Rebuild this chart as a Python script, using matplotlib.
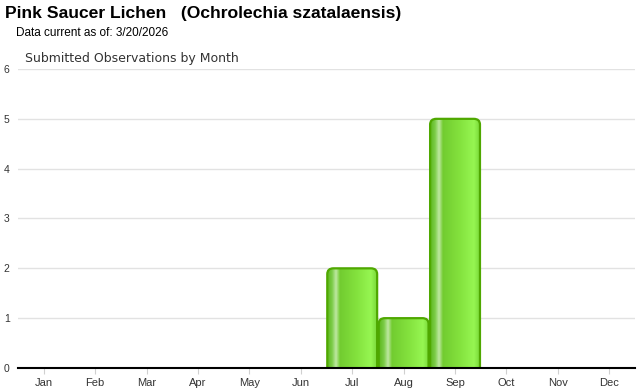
import numpy as np
import matplotlib.pyplot as plt
from matplotlib.patches import FancyBboxPatch
from matplotlib.colors import LinearSegmentedColormap

# ---------------------------------------------------------
# Submitted observations by month
# ---------------------------------------------------------
months = ["Jan", "Feb", "Mar", "Apr", "May", "Jun",
          "Jul", "Aug", "Sep", "Oct", "Nov", "Dec"]
observations = [0, 0, 0, 0, 0, 0, 2, 1, 5, 0, 0, 0]
y_ticks = [0, 1, 2, 3, 4, 5, 6]

title = "Pink Saucer Lichen   (Ochrolechia szatalaensis)"
subtitle = "Data current as of: 3/20/2026"
chart_title = "Submitted Observations by Month"

# horizontal gradient used to fill each bar
bar_cmap = LinearSegmentedColormap.from_list("bar", [
    (0.00, "#5cb81c"),
    (0.10, "#7ccc48"),
    (0.18, "#bfe8a2"),
    (0.26, "#72cc30"),
    (0.60, "#84e23e"),
    (0.88, "#96f652"),
    (1.00, "#7ad83a"),
])
border_color = "#4fa800"

fig = plt.figure(figsize=(6.4, 3.9), dpi=100)
ax = fig.add_axes([18 / 640, 1 - 368 / 390, 617 / 640, 299 / 390])

x = np.arange(len(months))
bar_w = 0.97
gradient = np.linspace(0, 1, 256).reshape(1, -1)

for xi, val in zip(x, observations):
    if val <= 0:
        continue
    left = xi - bar_w / 2
    patch = FancyBboxPatch((left, -0.2), bar_w, val + 0.2,
                           boxstyle="round,pad=0,rounding_size=0.12",
                           mutation_aspect=0.97,
                           facecolor="none", edgecolor=border_color,
                           lw=1.6, zorder=3)
    ax.add_patch(patch)
    im = ax.imshow(gradient, cmap=bar_cmap, aspect="auto",
                   extent=(left, left + bar_w, 0, val), zorder=2)
    im.set_clip_path(patch)

ax.set_xlim(-0.5, len(months) - 0.5)
ax.set_ylim(0, 6)
ax.set_xticks(x)
ax.set_xticklabels(months)
ax.set_yticks(y_ticks)
ax.yaxis.grid(True, color="#e2e2e2", lw=1)
ax.set_axisbelow(True)

for side in ["top", "right", "left"]:
    ax.spines[side].set_visible(False)
ax.spines["bottom"].set_color("black")
ax.spines["bottom"].set_linewidth(1.5)
ax.spines["bottom"].set_zorder(4)

ax.tick_params(axis="x", length=4, color="#d0d0d0", labelsize=8,
               labelcolor="#333333", pad=3)
ax.tick_params(axis="y", length=0, labelsize=7.5, labelcolor="#333333", pad=6)
for lbl in ax.get_xticklabels() + ax.get_yticklabels():
    lbl.set_family("Liberation Sans")

fig.text(5 / 640, 1 - 6 / 390, title, fontsize=12.6, fontweight="bold",
         family="Liberation Sans", va="top", ha="left")
fig.text(16 / 640, 1 - 27 / 390, subtitle, fontsize=8.5,
         family="Liberation Sans", va="top", ha="left")
fig.text(25 / 640, 1 - 52 / 390, chart_title, fontsize=9,
         family="DejaVu Sans", color="#333333", va="top", ha="left")

plt.savefig("out.png", dpi=100)
plt.close()
